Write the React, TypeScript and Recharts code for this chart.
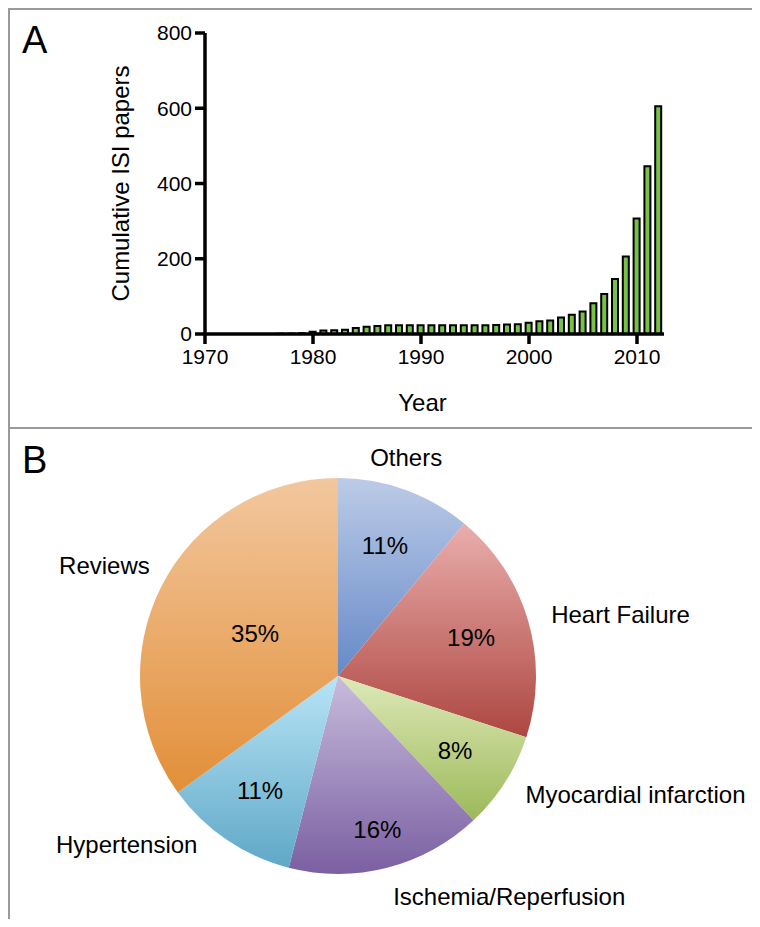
import React from 'react';
import { BarChart, Bar, XAxis, YAxis, Label, PieChart, Pie, Cell } from 'recharts';

// panel A: cumulative ISI papers per year
const years = [
  1977, 1978, 1979, 1980, 1981, 1982, 1983, 1984, 1985, 1986, 1987, 1988,
  1989, 1990, 1991, 1992, 1993, 1994, 1995, 1996, 1997, 1998, 1999, 2000,
  2001, 2002, 2003, 2004, 2005, 2006, 2007, 2008, 2009, 2010, 2011, 2012,
];
const papers = [
  1, 1, 2, 6, 9, 10, 11, 16, 19, 21, 23, 23,
  23, 23, 23, 23, 23, 23, 23, 23, 24, 25, 26, 30,
  34, 36, 44, 51, 60, 82, 106, 146, 206, 307, 446, 605,
];
const yearTicks = [1970, 1980, 1990, 2000, 2010];
const paperTicks = [0, 200, 400, 600, 800];

// panel B: share of papers per topic (%)
const topics = [
  'Others',
  'Heart Failure',
  'Myocardial infarction',
  'Ischemia/Reperfusion',
  'Hypertension',
  'Reviews',
];
const shares = [11, 19, 8, 16, 11, 35];

const gradients = [
  ['#bccbe7', '#6689c8'],
  ['#eaaeac', '#ad4641'],
  ['#dde9b8', '#9cb958'],
  ['#c8bcdc', '#7a5fa2'],
  ['#b8e4f6', '#5fa8c7'],
  ['#f2c79e', '#e28f38'],
];

const FONT = '"Liberation Sans", Arial, sans-serif';
const RAD = Math.PI / 180;

const barData = years.map((year, i) => ({ year, papers: papers[i] }));
const pieData = topics.map((name, i) => ({ name, value: shares[i] }));

const renderPieLabel = (props: any) => {
  const { cx, cy, midAngle, outerRadius, index, value } = props;
  const cos = Math.cos(-midAngle * RAD);
  const sin = Math.sin(-midAngle * RAD);
  const top = sin < -0.9;
  const rOut = outerRadius + (cos >= 0 ? 24 : 20);
  let ox = cx + rOut * cos;
  let oy = cy + rOut * sin + (top ? -10 : sin > 0.9 ? 5 : 0);
  if (top) ox -= 7;
  if (cos < 0 && !top) {
    oy -= 12;
    ox += sin > 0 ? -18 : 6;
  }
  const anchor = top ? 'middle' : cos >= 0 ? 'start' : 'end';
  const rIn = outerRadius * (value >= 30 ? 0.47 : sin > 0.9 ? 0.8 : 0.7);
  const ix = cx + rIn * cos;
  const iy = cy + rIn * sin;
  return (
    <g key={`lbl-${index}`}>
      <text x={ox} y={oy} textAnchor={anchor} dominantBaseline="central"
        fontSize={24} fontFamily={FONT} fill="#000">
        {topics[index]}
      </text>
      <text x={ix} y={iy} textAnchor="middle" dominantBaseline="central"
        fontSize={24} fontFamily={FONT} fill="#000">
        {`${value}%`}
      </text>
    </g>
  );
};

const axisStroke = { stroke: '#000', strokeWidth: 3.5 };
const tickStyle = { fontSize: 21, fill: '#000', fontFamily: FONT };

export default function App() {
  return (
    <div style={{ position: 'relative', width: 752, height: 911, fontFamily: FONT }}>
      {/* frame lines */}
      <div style={{ position: 'absolute', left: 0, top: 0, width: 752, height: 2, background: '#9a9a9a' }} />
      <div style={{ position: 'absolute', left: 0, top: 0, width: 2, height: 911, background: '#9a9a9a' }} />
      <div style={{ position: 'absolute', left: 0, top: 419, width: 752, height: 2, background: '#9a9a9a' }} />

      <div style={{ position: 'absolute', left: 14, top: 12, fontSize: 38, lineHeight: '40px' }}>A</div>
      <div style={{ position: 'absolute', left: 14, top: 432, fontSize: 38, lineHeight: '40px' }}>B</div>

      <div style={{ position: 'absolute', left: 0, top: 0 }}>
        <BarChart width={700} height={420} data={barData}
          margin={{ top: 25, right: 44, bottom: 34, left: 97 }}>
          <XAxis dataKey="year" type="number" domain={[1970, 2012.5]} ticks={yearTicks}
            height={60} axisLine={axisStroke} tickLine={axisStroke} tickSize={10}
            tickMargin={5} tick={tickStyle}>
            <Label value="Year" position="center" dx={-12} dy={38}
              style={{ fontSize: 24, fill: '#000', fontFamily: FONT }} />
          </XAxis>
          <YAxis type="number" domain={[0, 800]} ticks={paperTicks} width={100}
            axisLine={axisStroke} tickLine={axisStroke} tickSize={10} tickMargin={3}
            tick={tickStyle}>
            <Label value="Cumulative ISI papers" angle={-90} position="center" dx={-35}
              style={{ fontSize: 24, fill: '#000', fontFamily: FONT }} />
          </YAxis>
          <Bar dataKey="papers" barSize={6} fill="#78c146" stroke="#000"
            strokeWidth={2} isAnimationActive={false} />
        </BarChart>
      </div>

      <div style={{ position: 'absolute', left: 0, top: 420 }}>
        <PieChart width={752} height={491} margin={{ top: 0, right: 0, bottom: 0, left: 0 }}>
          <defs>
            {gradients.map(([from, to], i) => (
              <linearGradient key={i} id={`slice${i}`} x1="0" y1="0" x2="0" y2="1">
                <stop offset="0%" stopColor={from} />
                <stop offset="100%" stopColor={to} />
              </linearGradient>
            ))}
          </defs>
          <Pie data={pieData} dataKey="value" nameKey="name" cx={330} cy={248}
            outerRadius={198} startAngle={90} endAngle={-270} stroke="none"
            label={renderPieLabel} labelLine={false} isAnimationActive={false}>
            {pieData.map((_, i) => (
              <Cell key={`cell-${i}`} fill={`url(#slice${i})`} />
            ))}
          </Pie>
        </PieChart>
      </div>
    </div>
  );
}
